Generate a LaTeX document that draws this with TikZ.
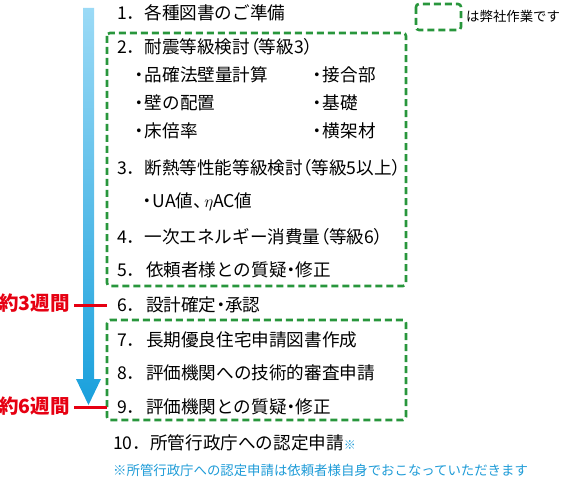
\documentclass[tikz,border=0pt]{standalone}
\usepackage{fontspec}
\setmainfont{Noto Sans CJK JP}
\newfontfamily\pf[RawFeature=+palt]{Noto Sans CJK JP}
\newcommand\jlp{{\pf （}}
\newcommand\jrp{{\pf ）}}
\newcommand\jdot{{\pf ・}}
\newcommand\jcom{{\pf 、}}
\definecolor{grn}{RGB}{40,150,60}
\definecolor{redc}{RGB}{230,0,18}
\definecolor{bluet}{RGB}{30,155,215}
\definecolor{arrtop}{RGB}{155,218,246}
\definecolor{arrbot}{RGB}{25,160,220}
\tikzset{
  txt/.style={anchor=west, inner sep=0pt, font=\fontsize{17.6}{17.6}\selectfont, text=black},
  small/.style={anchor=west, inner sep=0pt, font=\fontsize{13.4}{13.4}\selectfont},
  weeks/.style={anchor=east, inner sep=0pt, font=\fontsize{19.5}{19.5}\selectfont\bfseries, text=redc},
  workbox/.style={draw=grn, line width=2.6pt, dash pattern=on 7pt off 4pt, rounded corners=3pt},
  redline/.style={draw=redc, line width=3pt}
}
\begin{document}
\begin{tikzpicture}[x=1pt,y=-1pt]
\useasboundingbox (0,0) rectangle (561,478);
% arrow
\shade[top color=arrtop, bottom color=arrbot]
  (83,8) -- (94,8) -- (94,379) -- (101,379) -- (88.5,405) -- (76,379) -- (83,379) -- cycle;
% work boxes
\draw[workbox] (107,33) rectangle (406,286);
\draw[workbox] (107,320) rectangle (406,420);
\draw[workbox] (416,4) rectangle (461,30);
\node[small, text=black] (legend) at (466,16) {は弊社作業です};
% texts
\node[txt] (s1) at (117,13) {1．各種図書のご準備};
\node[txt] (s2) at (117,47) {2．耐震等級検討\jlp 等級3\jrp};
\node[txt] (b1) at (130,75) {・\hspace{-3pt}品確法壁量計算};
\node[txt] (b2) at (130,103) {・\hspace{-3pt}壁の配置};
\node[txt] (b3) at (130,131) {・\hspace{-3pt}床倍率};
\node[txt] (b4) at (308,75) {・\hspace{-3pt}接合部};
\node[txt] (b5) at (308,103) {・\hspace{-3pt}基礎};
\node[txt] (b6) at (308,131) {・\hspace{-3pt}横架材};
\node[txt] (s3) at (117,168) {3．断熱等性能等級検討\jlp 等級5以上\jrp};
\node[txt] (b7) at (138,202) {・\hspace{-3pt}UA値\jcom\hspace{2pt}$\eta$AC値};
\node[txt] (s4) at (117,237) {4．一次エネルギー消費量\jlp 等級6\jrp};
\node[txt] (s5) at (117,270) {5．\hspace{1.5pt}依頼者様との質疑\jdot 修正};
\node[txt] (s6) at (117,305) {6．\hspace{1.5pt}設計確定\jdot 承認};
\node[txt] (s7) at (117,340) {7．\hspace{1.5pt}長期優良住宅申請図書作成};
\node[txt] (s8) at (117,373) {8．\hspace{1.5pt}評価機関への技術的審査申請};
\node[txt] (s9) at (117,407) {9．\hspace{1.5pt}評価機関との質疑\jdot 修正};
\node[txt] (s10) at (113,443) {10．所管行政庁への認定申請{\fontsize{12}{12}\selectfont\color{bluet}※}};
\node[small, text=bluet] (note) at (113,470) {※所管行政庁への認定申請は依頼者様自身でおこなっていただきます};
% week markers
\node[weeks] (w3) at (70,303) {約3週間};
\node[weeks] (w6) at (70,406) {約6週間};
\coordinate (w3e) at (107,305);
\coordinate (w6e) at (107,407);
\draw[redline] (w3.east |- w3e) ++(4,0) -- (w3e);
\draw[redline] (w6.east |- w6e) ++(4,0) -- (w6e);
\end{tikzpicture}
\end{document}
